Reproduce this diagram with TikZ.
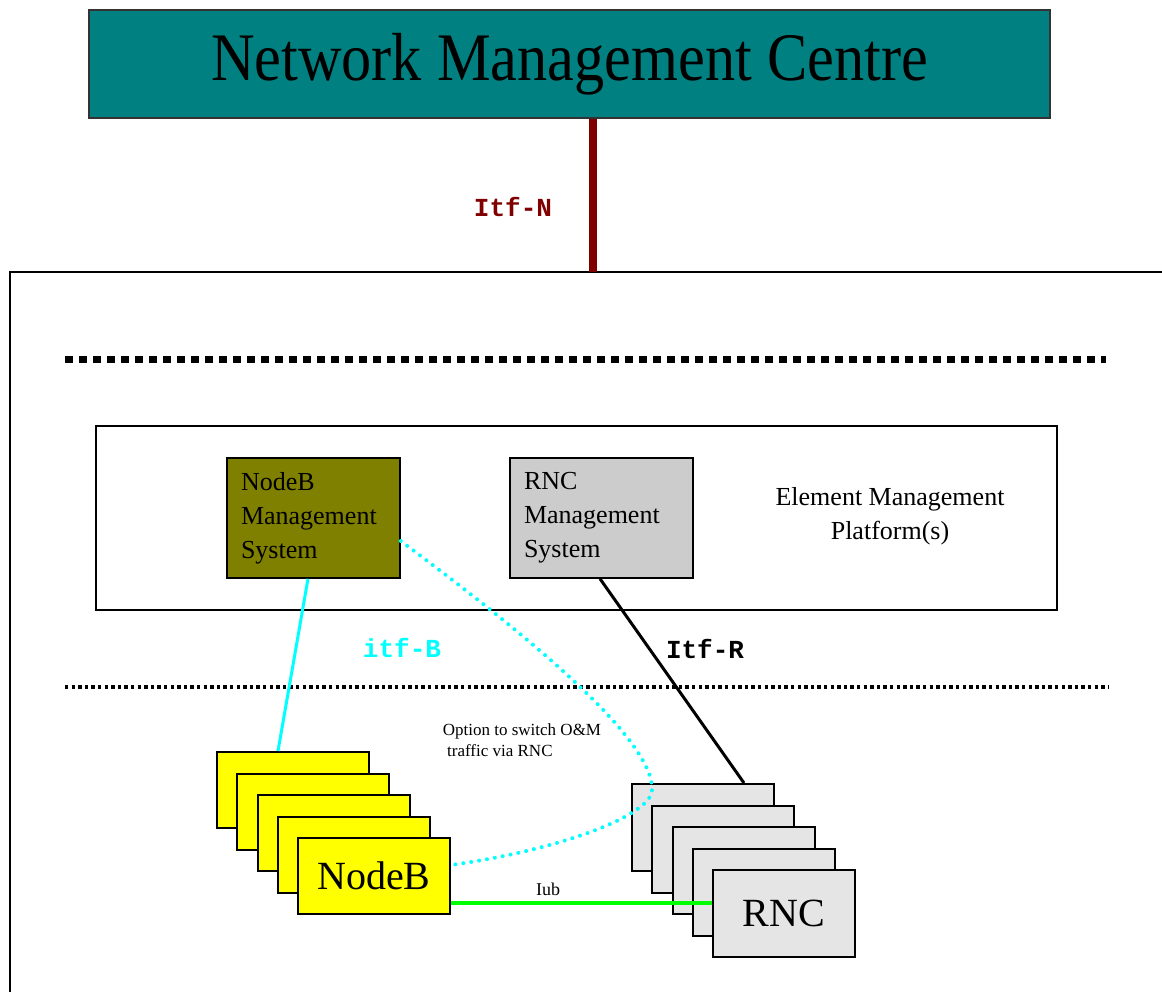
\documentclass[tikz,border=0pt]{standalone}
\usepackage{graphicx}
\usepackage{fontspec}
\setmainfont{Liberation Serif}
\setmonofont{Liberation Mono}
\definecolor{nmcteal}{RGB}{0,128,128}
\definecolor{olivebox}{RGB}{128,128,0}
\definecolor{rncgray}{RGB}{204,204,204}
\definecolor{rnclight}{RGB}{229,229,229}
\definecolor{itfred}{RGB}{128,0,0}
\definecolor{cyanline}{RGB}{0,255,255}
\definecolor{greenline}{RGB}{0,255,0}
\definecolor{nbyellow}{RGB}{255,255,0}
\begin{document}
\begin{tikzpicture}[x=1pt,y=-1pt,
  box/.style={draw=black,rectangle,inner sep=0pt,anchor=center},
  msbox/.style={box,line width=1.5pt,minimum height=120pt,
     align=left,font=\fontsize{26}{34}\selectfont},
  nbbox/.style={box,line width=2pt,fill=nbyellow,minimum width=152pt,minimum height=76pt},
  rncbox/.style={box,line width=2pt,fill=rnclight,minimum width=142pt,minimum height=87pt},
  itflabel/.style={font=\fontsize{26}{30}\selectfont\ttfamily\bfseries,inner sep=0pt},
  smalltext/.style={font=\fontsize{17}{21}\selectfont,inner sep=0pt},
  sqdots/.style={line width=7pt,dash pattern=on 7.5pt off 6.5pt},
  finedots/.style={line width=3.3pt,dash pattern=on 3.3pt off 3.3pt},
  rounddots/.style={cyanline,line width=4pt,line cap=round,dash pattern=on 0pt off 8pt}]
\useasboundingbox (0,0) rectangle (1162,992);
% outer frame
\coordinate (fTL) at (10,272);
\coordinate (fTR) at (1164,272);
\coordinate (fBL) at (10,994);
\draw[line width=2.5pt] (fTR) -- (fTL) -- (fBL);
% NMC
\node[box,line width=2pt,draw=black!80,fill=nmcteal,minimum width=961pt,minimum height=108pt] (nmc) at (569.5,64)
  {\raisebox{-3pt}{\fontsize{68}{80}\selectfont\scalebox{0.887}[1]{Network Management Centre}}};
\coordinate (itfNend) at (593,272);
\draw[itfred,line width=8pt] (itfNend |- nmc.south) -- (itfNend);
\node[itflabel,text=itfred] (itfN) at (513,207) {Itf-N};
% dotted separators
\coordinate (d1a) at (65,359);
\coordinate (d1b) at (1106,359);
\draw[sqdots] (d1a) -- (d1b);
\coordinate (d2a) at (65,687);
\coordinate (d2b) at (1108,687);
\draw[finedots] (d2a) -- (d2b);
% EMP
\node[box,line width=1.2pt,minimum width=961pt,minimum height=184pt] (emp) at (576.5,518) {};
\node[align=center,font=\fontsize{26}{34}\selectfont,inner sep=0pt] (emptext) at (890,516)
  {Element Management\\Platform(s)};
\node[msbox,fill=olivebox,minimum width=173pt,text width=145pt] (nbms) at (313.5,518) {NodeB\\Management\\System};
\node[msbox,fill=rncgray,minimum width=183pt,text width=155pt] (rncms) at (601.5,518) {RNC\\Management\\System};
% NodeB stack
\foreach \i in {1,...,5} {
  \node[nbbox] (nb\i) at ({293+20.25*(\i-1)},{790+21.5*(\i-1)}) {};
}
\node[font=\fontsize{40}{48}\selectfont,inner sep=0pt] (nbtext) at (nb5.center) {NodeB};
% RNC stack
\foreach \i in {1,...,5} {
  \node[rncbox] (rnc\i) at ({703+20.25*(\i-1)},{827.5+21.6*(\i-1)}) {};
}
\node[font=\fontsize{40}{48}\selectfont,inner sep=0pt] (rnctext) at (rnc5.center) {RNC};
% interfaces
\draw[cyanline,line width=3pt] ([xshift=-5.5pt]nbms.south) -- ([xshift=-15pt]nb1.north);
\node[itflabel,text=cyanline] (itfB) at (402,648) {itf-B};
\draw[black,line width=3pt] ([xshift=-1.5pt]rncms.south) -- ([xshift=41pt]rnc1.north);
\node[itflabel] (itfR) at (705,649) {Itf-R};
\draw[greenline,line width=4pt] ([yshift=-27pt]nb5.east) -- ([yshift=-27pt]nb5.east -| rnc5.west);
\node[smalltext,font=\fontsize{18}{21}\selectfont] (iub) at (548,889) {Iub};
% optional O&M path
\draw[rounddots] ([yshift=-23pt]nbms.east) .. controls (470,593) and (655,730) .. (652,790)
  .. controls (652,815) and (560,850) .. ([yshift=11pt]nb5.east);
\node[smalltext,align=left] (opt) at (522,740) {Option to switch O\&M\\\ traffic via RNC};
\end{tikzpicture}
\end{document}
